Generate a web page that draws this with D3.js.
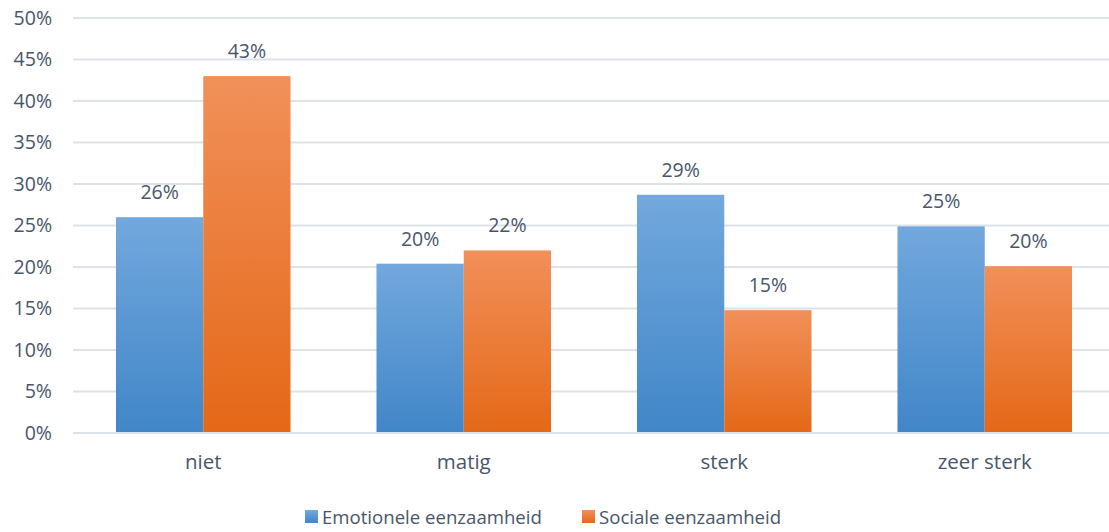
<!DOCTYPE html>
<html>
<head>
<meta charset="utf-8">
<script src="https://cdn.jsdelivr.net/npm/d3@7"></script>
<style>
  html, body { margin: 0; padding: 0; background: #fff; overflow: hidden; }
  svg { display: block; font-family: "Open Sans", sans-serif; }
</style>
</head>
<body>
<svg id="chart" width="1109" height="532"></svg>
<script>
// Loneliness intensity by type (share of respondents)
const categories = ["niet", "matig", "sterk", "zeer sterk"];
const seriesNames = ["Emotionele eenzaamheid", "Sociale eenzaamheid"];
const emotionele = [0.26, 0.204, 0.287, 0.249];
const sociale = [0.43, 0.22, 0.148, 0.201];
const yTicks = [0, 0.05, 0.10, 0.15, 0.20, 0.25, 0.30, 0.35, 0.40, 0.45, 0.50];

const seriesValues = [emotionele, sociale];
const rows = categories.map((c, i) => ({
  category: c,
  values: seriesNames.map((s, j) => ({ series: s, value: seriesValues[j][i] }))
}));

const svg = d3.select("#chart");
const margin = { top: 18, left: 73, bottom: 99 };
const width = 1042;            // plot area runs slightly past the right edge
const height = 532 - margin.top - margin.bottom;
const textColor = "#48566a";
const gridColor = "#dde2e8";

const defs = svg.append("defs");
const gradients = [
  { id: "grad-blue", top: "#72a8dd", bottom: "#4186c8" },
  { id: "grad-orange", top: "#f1905a", bottom: "#e46817" }
];
gradients.forEach(g => {
  const lg = defs.append("linearGradient").attr("id", g.id)
    .attr("x1", 0).attr("y1", 0).attr("x2", 0).attr("y2", 1);
  lg.append("stop").attr("offset", "0%").attr("stop-color", g.top);
  lg.append("stop").attr("offset", "100%").attr("stop-color", g.bottom);
});
const color = d3.scaleOrdinal().domain(seriesNames).range(["url(#grad-blue)", "url(#grad-orange)"]);

const g = svg.append("g").attr("transform", `translate(${margin.left},${margin.top})`);

const x0 = d3.scaleBand().domain(categories).range([0, width]).padding(0);
const gap = x0.step() * 0.165;
const x1 = d3.scaleBand().domain(seriesNames).range([gap, x0.bandwidth() - gap]).padding(0);
const y = d3.scaleLinear().domain([0, 0.5]).range([height, 0]);

// horizontal gridlines
g.append("g")
  .selectAll("line")
  .data(yTicks.filter(t => t > 0))
  .join("line")
  .attr("x1", 0).attr("x2", width)
  .attr("y1", d => y(d)).attr("y2", d => y(d))
  .attr("stroke", gridColor).attr("stroke-width", 2);

// y axis labels
const yAxis = d3.axisLeft(y).tickValues(yTicks).tickFormat(d3.format(".0%")).tickSize(0).tickPadding(21);
g.append("g").call(yAxis)
  .call(a => a.select(".domain").remove())
  .selectAll("text")
  .attr("fill", textColor).attr("font-size", 19.5).attr("font-family", "Open Sans, sans-serif");

// bars
const groups = g.append("g").selectAll("g")
  .data(rows)
  .join("g")
  .attr("transform", d => `translate(${x0(d.category)},0)`);

groups.selectAll("rect")
  .data(d => d.values)
  .join("rect")
  .attr("x", d => x1(d.series))
  .attr("width", x1.bandwidth())
  .attr("y", d => y(d.value))
  .attr("height", d => y(0) - y(d.value))
  .attr("fill", d => color(d.series));

// value labels
groups.selectAll("text.value")
  .data(d => d.values)
  .join("text")
  .attr("class", "value")
  .attr("x", d => x1(d.series) + x1.bandwidth() / 2)
  .attr("y", d => y(d.value) - 18)
  .attr("text-anchor", "middle")
  .attr("fill", textColor)
  .attr("font-size", 19.5)
  .text(d => d3.format(".0%")(d.value));

// x axis baseline with boundary ticks
const xAxisG = g.append("g").attr("transform", `translate(0,${height})`);
xAxisG.append("line")
  .attr("x1", 0).attr("x2", width).attr("y1", 0).attr("y2", 0)
  .attr("stroke", gridColor).attr("stroke-width", 2);
xAxisG.selectAll("line.tick")
  .data(categories.map(c => x0(c)).concat([width]))
  .join("line")
  .attr("class", "tick")
  .attr("x1", d => d).attr("x2", d => d)
  .attr("y1", 0).attr("y2", 8)
  .attr("stroke", gridColor).attr("stroke-width", 2);
const xAxis = d3.axisBottom(x0).tickSize(0).tickPadding(21);
xAxisG.call(xAxis)
  .call(a => a.select(".domain").remove())
  .selectAll("text")
  .attr("fill", textColor).attr("font-size", 20.5).attr("font-family", "Open Sans, sans-serif");

// legend
const legend = svg.append("g").attr("transform", "translate(0,517)");
const legendItems = [
  { name: seriesNames[0], x: 305 },
  { name: seriesNames[1], x: 582 }
];
const li = legend.selectAll("g").data(legendItems).join("g")
  .attr("transform", d => `translate(${d.x},0)`);
li.append("rect")
  .attr("x", 0).attr("y", -7).attr("width", 13).attr("height", 13)
  .attr("fill", d => color(d.name));
li.append("text")
  .attr("x", 17).attr("y", 0).attr("dy", "0.35em")
  .attr("fill", textColor).attr("font-size", 18.6)
  .text(d => d.name);
</script>
</body>
</html>
